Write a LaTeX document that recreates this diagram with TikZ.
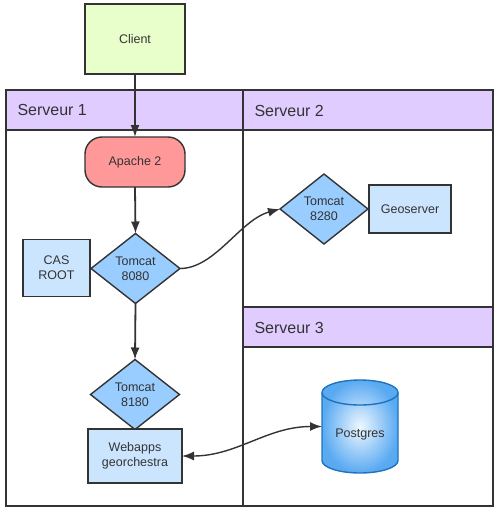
\documentclass[tikz,border=0pt]{standalone}
\usepackage{fontspec}
\setmainfont{Liberation Sans}
\usetikzlibrary{shapes.geometric,arrows.meta}
\definecolor{bord}{HTML}{333333}
\definecolor{clientfill}{HTML}{E8FFCC}
\definecolor{apachefill}{HTML}{FF9999}
\definecolor{headfill}{HTML}{E0CCFF}
\definecolor{diafill}{HTML}{99CCFF}
\definecolor{boxfill}{HTML}{CCE5FF}
\definecolor{cylstroke}{HTML}{1E73BE}
\definecolor{cylin}{HTML}{EEF7FF}
\definecolor{cylout}{HTML}{5AAAF2}
\tikzset{
  lane/.style={draw=bord, line width=1.8pt},
  head/.style={draw=bord, line width=1.8pt, fill=headfill},
  headtxt/.style={anchor=west, text=bord, font=\fontsize{16}{18}\selectfont},
  nd/.style={draw=bord, line width=1.4pt, text=bord, align=center, inner sep=0pt, outer sep=0pt,
    font=\fontsize{12.5}{15}\selectfont},
  rbox/.style={nd, rectangle},
  dia/.style={nd, diamond, fill=diafill, aspect=1.27, minimum width=89pt, minimum height=70pt},
  arr/.style={draw=bord, line width=1.8pt, -{Latex[length=12pt,width=9pt]}},
  carr/.style={draw=bord, line width=1.4pt, -{Latex[length=12pt,width=9pt]}},
  darr/.style={draw=bord, line width=1.4pt, {Latex[length=12pt,width=9pt]}-{Latex[length=12pt,width=9pt]}},
}
\begin{document}
\begin{tikzpicture}[x=1pt,y=-1pt]
\useasboundingbox (0,0) rectangle (496,509);
% lanes
\draw[lane] (6,90) rectangle (243,506);
\draw[head] (6,90) rectangle (243,130);
\node[headtxt] (h1) at (14,110) {Serveur 1};
\draw[lane] (243,90) rectangle (493,307);
\draw[head] (243,90) rectangle (493,130);
\node[headtxt] (h2) at (251,111) {Serveur 2};
\draw[lane] (243,307) rectangle (493,506);
\draw[head] (243,307) rectangle (493,347);
\node[headtxt] (h3) at (251,328) {Serveur 3};
% nodes
\node[rbox, fill=clientfill, minimum width=100pt, minimum height=70pt] (client) at (135,39) {Client};
\node[rbox, fill=apachefill, rounded corners=17pt, minimum width=100pt, minimum height=50pt] (apache) at (135,162) {Apache 2};
\node[dia] (t1) at (135.5,268.5) {Tomcat\\8080};
\node[rbox, fill=boxfill, minimum width=67pt, minimum height=57pt] (cas) at (56.5,268) {CAS\\ROOT};
\node[dia] (t2) at (135,394.5) {Tomcat\\8180};
\node[rbox, fill=boxfill, minimum width=94pt, minimum height=54pt] (web) at (135,456) {Webapps\\georchestra};
\node[dia, minimum width=88pt] (t3) at (324,209) {Tomcat\\8280};
\node[rbox, fill=boxfill, minimum width=82pt, minimum height=48pt] (geo) at (410,209) {Geoserver};
% cylinder
\path[draw=cylstroke, line width=1.4pt, inner color=cylin, outer color=cylout]
  (322,392.5) -- (322,460.5) arc[start angle=180,end angle=360,x radius=38pt,y radius=12.5pt]
  -- (398,392.5) arc[start angle=0,end angle=180,x radius=38pt,y radius=12.5pt] -- cycle;
\draw[draw=cylstroke, line width=1.4pt] (322,392.5) arc[start angle=180,end angle=360,x radius=38pt,y radius=12.5pt];
\node[nd, draw=none, minimum width=76pt, minimum height=93pt] (pg) at (360,426.5) {};
\node[nd, draw=none] (pgt) at (360,434) {Postgres};
% connectors
\draw[arr] (client.south) -- (apache.north);
\draw[arr] (apache.south) -- (t1.north);
\draw[arr] (t1.south) -- (t2.north);
\draw[carr] (t1.east) .. controls +(35,0) and +(-40,11) .. (t3.west);
\draw[darr] (web.east) .. controls +(55,0) and +(-55,0) .. (pg.west);
\end{tikzpicture}
\end{document}
